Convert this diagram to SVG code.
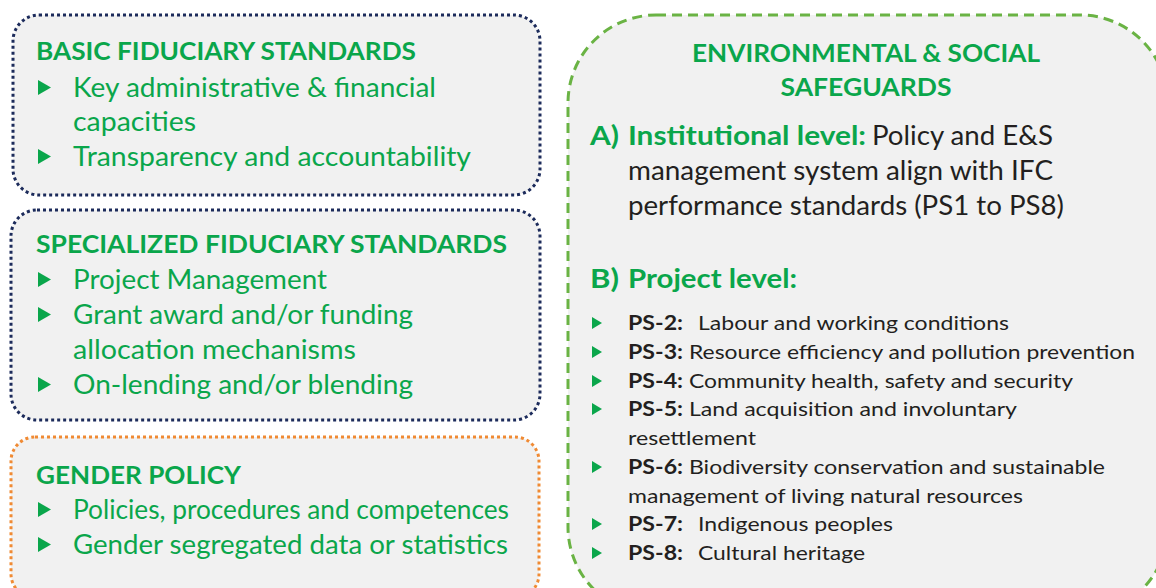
<svg xmlns="http://www.w3.org/2000/svg" width="1156" height="588" viewBox="0 0 1156 588">
<style>
.box{fill:#f1f1f1;stroke-width:3}
.navy{stroke:#1c2b5b;stroke-dasharray:3 3}
.orange{stroke:#f08a33;stroke-dasharray:3 3}
.gdash{stroke:#6ab344;stroke-dasharray:10 6}
text{font-family:Lato,"Liberation Sans",sans-serif}
.t{fill:#0aa64b;font-weight:700;font-size:25px}
.b{fill:#0aa64b;font-size:27px}
.rb{fill:#0aa64b;font-weight:700;font-size:26px}
.rr{fill:#231f20;font-size:26px}
.pb{fill:#231f20;font-weight:700;font-size:20px}
.pr{fill:#231f20;font-size:20px}
.tri{fill:#0aa64b}
</style>
<rect width="1156" height="588" fill="#ffffff"/>
<g id="basic">
<rect class="box navy" x="13" y="15" width="527" height="180" rx="26"/>
<text class="t" x="36" y="60" textLength="380" lengthAdjust="spacingAndGlyphs">BASIC FIDUCIARY STANDARDS</text>
<polygon class="tri" points="38,80 38,95 51,87.5"/>
<text class="b" x="73" y="97" textLength="363" lengthAdjust="spacingAndGlyphs">Key administrative &amp; financial</text>
<text class="b" x="73" y="131" textLength="123" lengthAdjust="spacingAndGlyphs">capacities</text>
<polygon class="tri" points="38,149 38,164 51,156.5"/>
<text class="b" x="73" y="166" textLength="398" lengthAdjust="spacingAndGlyphs">Transparency and accountability</text>
</g>
<g id="specialized">
<rect class="box navy" x="11" y="210" width="529" height="210" rx="26"/>
<text class="t" x="36" y="253" textLength="471" lengthAdjust="spacingAndGlyphs">SPECIALIZED FIDUCIARY STANDARDS</text>
<polygon class="tri" points="38,272 38,287 51,279.5"/>
<text class="b" x="73" y="289" textLength="254" lengthAdjust="spacingAndGlyphs">Project Management</text>
<polygon class="tri" points="38,307 38,322 51,314.5"/>
<text class="b" x="73" y="324" textLength="340" lengthAdjust="spacingAndGlyphs">Grant award and/or funding</text>
<text class="b" x="73" y="359" textLength="283" lengthAdjust="spacingAndGlyphs">allocation mechanisms</text>
<polygon class="tri" points="38,377 38,392 51,384.5"/>
<text class="b" x="73" y="394" textLength="340" lengthAdjust="spacingAndGlyphs">On-lending and/or blending</text>
</g>
<g id="gender">
<rect class="box orange" x="11" y="437" width="528" height="161" rx="24"/>
<text class="t" x="36" y="484" textLength="205" lengthAdjust="spacingAndGlyphs">GENDER POLICY</text>
<polygon class="tri" points="38,502 38,517 51,509.5"/>
<text class="b" x="73" y="519" textLength="436" lengthAdjust="spacingAndGlyphs">Policies, procedures and competences</text>
<polygon class="tri" points="38,537 38,552 51,544.5"/>
<text class="b" x="73" y="554" textLength="435" lengthAdjust="spacingAndGlyphs">Gender segregated data or statistics</text>
</g>
<g id="es-safeguards">
<rect class="box gdash" x="568" y="15" width="600" height="600" rx="88"/>
<text class="t" x="866" y="62" text-anchor="middle" textLength="348" lengthAdjust="spacingAndGlyphs">ENVIRONMENTAL &amp; SOCIAL</text>
<text class="t" x="866" y="96" text-anchor="middle" textLength="171" lengthAdjust="spacingAndGlyphs">SAFEGUARDS</text>
<text class="rb" x="590" y="145" textLength="29" lengthAdjust="spacingAndGlyphs">A)</text>
<text class="rb" x="628" y="145" textLength="238" lengthAdjust="spacingAndGlyphs">Institutional level:</text>
<text class="rr" x="872" y="145" textLength="181" lengthAdjust="spacingAndGlyphs">Policy and E&amp;S</text>
<text class="rr" x="628" y="180" textLength="425" lengthAdjust="spacingAndGlyphs">management system align with IFC</text>
<text class="rr" x="628" y="215" textLength="436" lengthAdjust="spacingAndGlyphs">performance standards (PS1 to PS8)</text>
<text class="rb" x="590" y="288" textLength="29" lengthAdjust="spacingAndGlyphs">B)</text>
<text class="rb" x="628" y="288" textLength="169" lengthAdjust="spacingAndGlyphs">Project level:</text>
<polygon class="tri" points="592,317 592,329 602,323"/>
<text class="pb" x="628" y="330" textLength="55" lengthAdjust="spacingAndGlyphs">PS-2:</text>
<text class="pr" x="698" y="330" textLength="311" lengthAdjust="spacingAndGlyphs">Labour and working conditions</text>
<polygon class="tri" points="592,346 592,358 602,352"/>
<text class="pb" x="628" y="359" textLength="55" lengthAdjust="spacingAndGlyphs">PS-3:</text>
<text class="pr" x="689" y="359" textLength="446" lengthAdjust="spacingAndGlyphs">Resource efficiency and pollution prevention</text>
<polygon class="tri" points="592,375 592,387 602,381"/>
<text class="pb" x="628" y="388" textLength="55" lengthAdjust="spacingAndGlyphs">PS-4:</text>
<text class="pr" x="689" y="388" textLength="384" lengthAdjust="spacingAndGlyphs">Community health, safety and security</text>
<polygon class="tri" points="592,403 592,415 602,409"/>
<text class="pb" x="628" y="416" textLength="55" lengthAdjust="spacingAndGlyphs">PS-5:</text>
<text class="pr" x="689" y="416" textLength="328" lengthAdjust="spacingAndGlyphs">Land acquisition and involuntary</text>
<text class="pr" x="628" y="445" textLength="128" lengthAdjust="spacingAndGlyphs">resettlement</text>
<polygon class="tri" points="592,461 592,473 602,467"/>
<text class="pb" x="628" y="474" textLength="55" lengthAdjust="spacingAndGlyphs">PS-6:</text>
<text class="pr" x="689" y="474" textLength="416" lengthAdjust="spacingAndGlyphs">Biodiversity conservation and sustainable</text>
<text class="pr" x="628" y="503" textLength="395" lengthAdjust="spacingAndGlyphs">management of living natural resources</text>
<polygon class="tri" points="592,518 592,530 602,524"/>
<text class="pb" x="628" y="531" textLength="55" lengthAdjust="spacingAndGlyphs">PS-7:</text>
<text class="pr" x="698" y="531" textLength="195" lengthAdjust="spacingAndGlyphs">Indigenous peoples</text>
<polygon class="tri" points="592,547 592,559 602,553"/>
<text class="pb" x="628" y="560" textLength="55" lengthAdjust="spacingAndGlyphs">PS-8:</text>
<text class="pr" x="698" y="560" textLength="167" lengthAdjust="spacingAndGlyphs">Cultural heritage</text>
</g>
<g id="connectors"></g>
</svg>
